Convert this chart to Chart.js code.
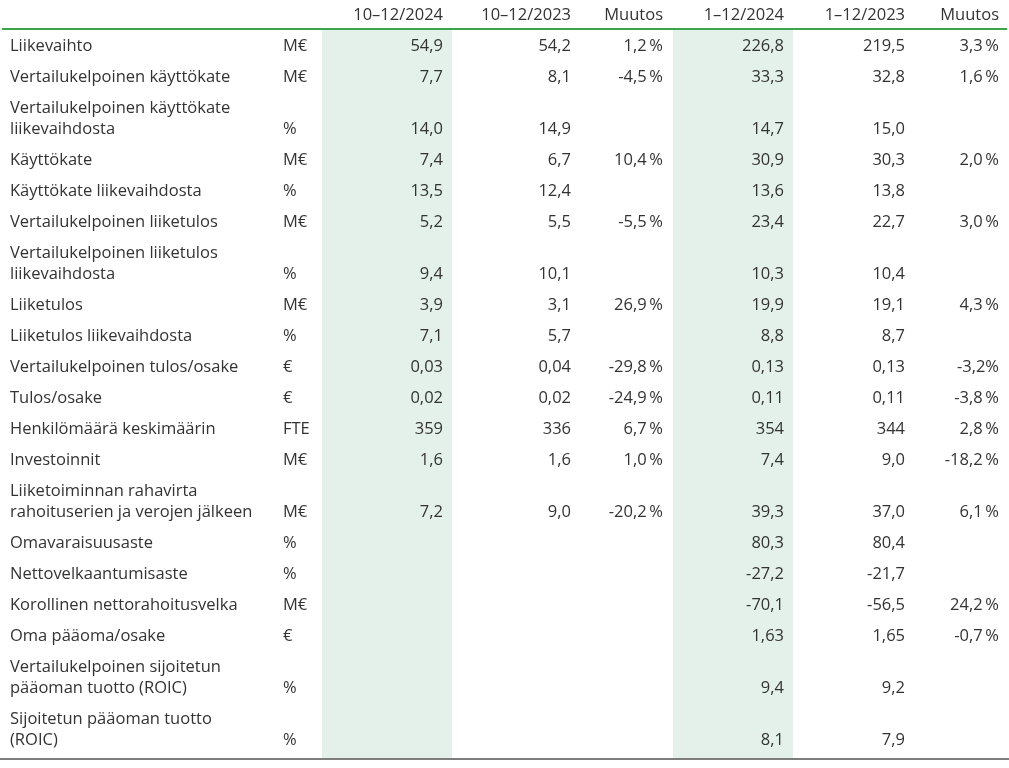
<!DOCTYPE html>
<html lang="fi">
<head>
<meta charset="utf-8">
<script src="https://cdn.jsdelivr.net/npm/chart.js@4/dist/chart.umd.min.js"></script>
<style>
  html, body { margin: 0; padding: 0; background: #fff; }
  #wrap { width: 1009px; height: 768px; }
</style>
</head>
<body>
<div id="wrap"><canvas id="table" width="1009" height="768"></canvas></div>
<script>
// table content
const headers = ['10–12/2024', '10–12/2023', 'Muutos', '1–12/2024', '1–12/2023', 'Muutos'];

const rowLabels = [
    ['Liikevaihto'],
    ['Vertailukelpoinen käyttökate'],
    ['Vertailukelpoinen käyttökate', 'liikevaihdosta'],
    ['Käyttökate'],
    ['Käyttökate liikevaihdosta'],
    ['Vertailukelpoinen liiketulos'],
    ['Vertailukelpoinen liiketulos', 'liikevaihdosta'],
    ['Liiketulos'],
    ['Liiketulos liikevaihdosta'],
    ['Vertailukelpoinen tulos/osake'],
    ['Tulos/osake'],
    ['Henkilömäärä keskimäärin'],
    ['Investoinnit'],
    ['Liiketoiminnan rahavirta', 'rahoituserien ja verojen jälkeen'],
    ['Omavaraisuusaste'],
    ['Nettovelkaantumisaste'],
    ['Korollinen nettorahoitusvelka'],
    ['Oma pääoma/osake'],
    ['Vertailukelpoinen sijoitetun', 'pääoman tuotto (ROIC)'],
    ['Sijoitetun pääoman tuotto', '(ROIC)']
];

const units = ['M€', 'M€', '%', 'M€', '%', 'M€', '%', 'M€', '%', '€', '€', 'FTE', 'M€', 'M€',
    '%', '%', 'M€', '€', '%', '%'];

const q4_2024 = ['54,9', '7,7', '14,0', '7,4', '13,5', '5,2', '9,4', '3,9', '7,1', '0,03', '0,02',
    '359', '1,6', '7,2', '', '', '', '', '', ''];
const q4_2023 = ['54,2', '8,1', '14,9', '6,7', '12,4', '5,5', '10,1', '3,1', '5,7', '0,04', '0,02',
    '336', '1,6', '9,0', '', '', '', '', '', ''];
const q4_change = ['1,2 %', '-4,5 %', '', '10,4 %', '', '-5,5 %', '', '26,9 %', '', '-29,8 %', '-24,9 %',
    '6,7 %', '1,0 %', '-20,2 %', '', '', '', '', '', ''];
const fy_2024 = ['226,8', '33,3', '14,7', '30,9', '13,6', '23,4', '10,3', '19,9', '8,8', '0,13', '0,11',
    '354', '7,4', '39,3', '80,3', '-27,2', '-70,1', '1,63', '9,4', '8,1'];
const fy_2023 = ['219,5', '32,8', '15,0', '30,3', '13,8', '22,7', '10,4', '19,1', '8,7', '0,13', '0,11',
    '344', '9,0', '37,0', '80,4', '-21,7', '-56,5', '1,65', '9,2', '7,9'];
const fy_change = ['3,3 %', '1,6 %', '', '2,0 %', '', '3,0 %', '', '4,3 %', '', '-3,2%', '-3,8 %',
    '2,8 %', '-18,2 %', '6,1 %', '', '', '24,2 %', '-0,7 %', '', ''];

const columns = [q4_2024, q4_2023, q4_change, fy_2024, fy_2023, fy_change];

// layout (x in px units, y in row units)
const LABEL_X = 10;
const UNIT_X = 283;
const COL_RIGHT = [443, 571, 663, 784, 905, 999];
const SHADE = [[322, 452], [673, 793]];
const ROW_PX = 31;
const HEADER_PX = 15;
const WRAP = 0.68;
const FONT = '16.5px "Open Sans", "Noto Sans", sans-serif';
const TEXT = '#333333';

// row positions: first line and last line of each row
const rowFirst = [];
const rowLast = [];
let u = 0;
rowLabels.forEach(lines => {
    u += 1;
    rowFirst.push(u);
    u += (lines.length - 1) * WRAP;
    rowLast.push(u);
});
const TOP_RULE = 0.45;
const BOTTOM_RULE = u + 0.6;

const tablePlugin = {
    id: 'tablePlugin',
    beforeDraw(chart) {
        const { ctx, scales: { x, y } } = chart;
        ctx.save();
        ctx.fillStyle = '#fff';
        ctx.fillRect(0, 0, chart.width, chart.height);
        ctx.fillStyle = '#e3f1ea';
        const top = y.getPixelForValue(TOP_RULE);
        const bottom = y.getPixelForValue(BOTTOM_RULE);
        SHADE.forEach(([a, b]) => {
            ctx.fillRect(x.getPixelForValue(a), top, x.getPixelForValue(b) - x.getPixelForValue(a), bottom - top);
        });
        ctx.restore();
    },
    afterDraw(chart) {
        const { ctx, scales: { x, y } } = chart;
        ctx.save();

        // rules
        ctx.fillStyle = '#3ba54a';
        ctx.fillRect(x.getPixelForValue(2), Math.round(y.getPixelForValue(TOP_RULE)) - 1, x.getPixelForValue(1007) - x.getPixelForValue(2), 2);
        ctx.fillStyle = '#7d7d7d';
        ctx.fillRect(x.getPixelForValue(0), Math.round(y.getPixelForValue(BOTTOM_RULE)) - 1, x.getPixelForValue(1009), 2);

        ctx.font = FONT;
        ctx.fillStyle = TEXT;
        ctx.textBaseline = 'middle';

        // header
        ctx.textAlign = 'right';
        headers.forEach((h, c) => {
            ctx.fillText(h, x.getPixelForValue(COL_RIGHT[c]), y.getPixelForValue(0));
        });

        // rows
        rowLabels.forEach((lines, r) => {
            ctx.textAlign = 'left';
            lines.forEach((line, i) => {
                ctx.fillText(line, x.getPixelForValue(LABEL_X), y.getPixelForValue(rowFirst[r] + i * WRAP));
            });
            const yy = y.getPixelForValue(rowLast[r]);
            ctx.fillText(units[r], x.getPixelForValue(UNIT_X), yy);
            ctx.textAlign = 'right';
            columns.forEach((col, c) => {
                if (col[r]) ctx.fillText(col[r].replace(' %', '\u2009%'), x.getPixelForValue(COL_RIGHT[c]), yy);
            });
        });
        ctx.restore();
    }
};

const build = () => new Chart(document.getElementById('table'), {
    type: 'scatter',
    data: { datasets: [{ data: [], pointRadius: 0 }] },
    options: {
        responsive: false,
        animation: false,
        events: [],
        layout: { padding: 0 },
        plugins: { legend: { display: false }, tooltip: { enabled: false } },
        scales: {
            x: { type: 'linear', min: 0, max: 1009, display: false },
            y: {
                type: 'linear',
                reverse: true,
                min: -HEADER_PX / ROW_PX,
                max: (768 - HEADER_PX) / ROW_PX,
                display: false
            }
        }
    },
    plugins: [tablePlugin]
});

if (document.fonts && document.fonts.load) {
    document.fonts.load(FONT).then(build, build);
} else {
    build();
}
</script>
</body>
</html>
